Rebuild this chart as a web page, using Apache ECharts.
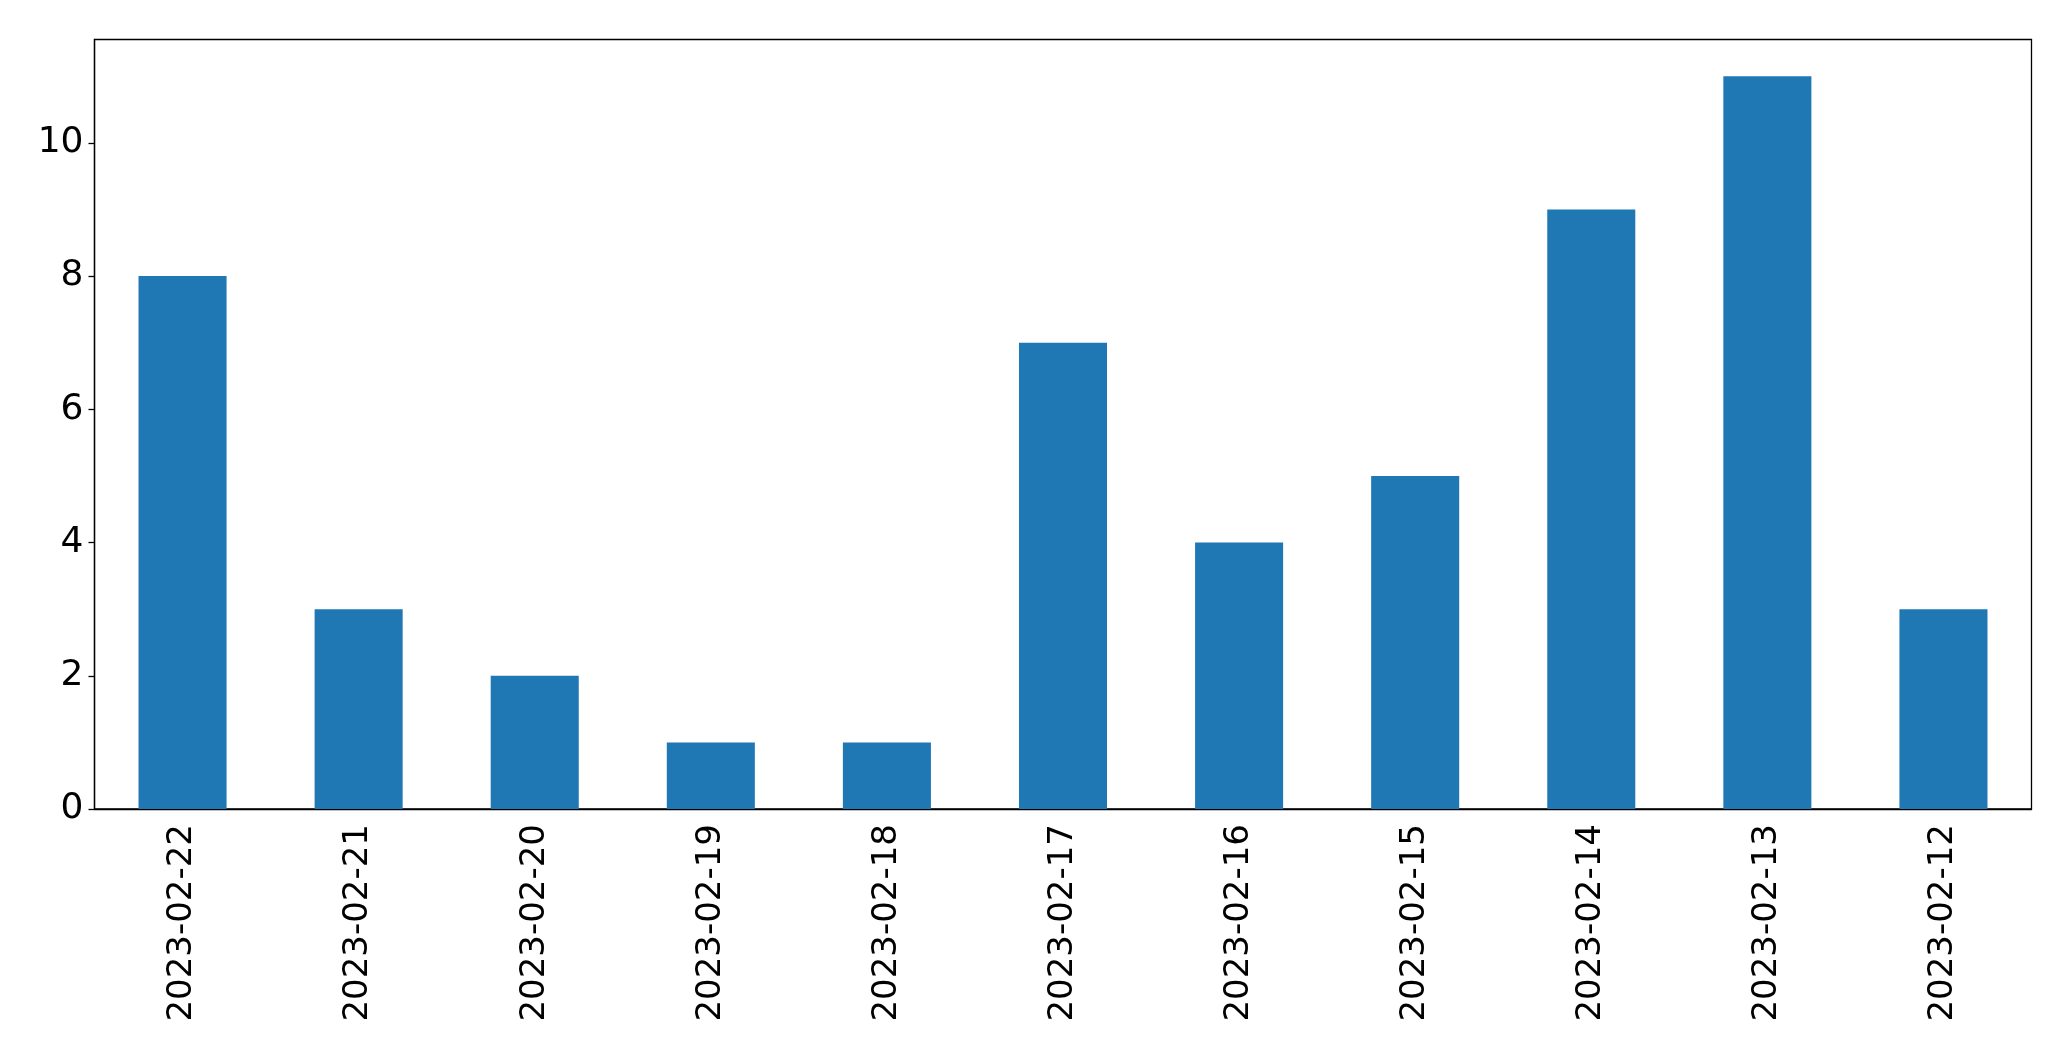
<!DOCTYPE html>
<html>
<head>
<meta charset="utf-8">
<script src="https://cdn.jsdelivr.net/npm/echarts@6/dist/echarts.min.js"></script>
<style>
html,body{margin:0;padding:0;background:#fff;}
#chart{width:2071px;height:1061px;}
</style>
</head>
<body>
<div id="chart"></div>
<script>
const categories = ["2023-02-22","2023-02-21","2023-02-20","2023-02-19","2023-02-18","2023-02-17","2023-02-16","2023-02-15","2023-02-14","2023-02-13","2023-02-12"];
const values = [8,3,2,1,1,7,4,5,9,11,3];
const yTicks = [0,2,4,6,8,10];

const chart = echarts.init(document.getElementById('chart'), null, {renderer:'canvas'});
chart.setOption({
  animation:false,
  backgroundColor:'#ffffff',
  grid:{left:94.5,right:39.5,top:39.5,bottom:252,show:true,borderColor:'#000',borderWidth:1.3,backgroundColor:'transparent'},
  xAxis:{
    type:'category',data:categories,boundaryGap:true,
    axisLine:{lineStyle:{color:'#000',width:1.3}},
    axisTick:{alignWithLabel:true,length:6,lineStyle:{color:'#000',width:1.3}},
    axisLabel:{rotate:90,margin:15,color:'#000',fontSize:34,fontFamily:'DejaVu Sans',interval:0},
    splitLine:{show:false}
  },
  yAxis:{
    type:'value',min:0,max:11.55,interval:2,
    axisLine:{show:true,lineStyle:{color:'#000',width:1.3}},
    axisTick:{show:true,length:6,lineStyle:{color:'#000',width:1.3}},
    axisLabel:{showMaxLabel:false,margin:11,color:'#000',fontSize:36,fontFamily:'DejaVu Sans',padding:[4,0,0,0],
      formatter:function(v){return yTicks.indexOf(v)>=0?String(v):'';}},
    splitLine:{show:false}
  },
  series:[{type:'bar',data:values,barWidth:'50%',itemStyle:{color:'#1f77b4'}}]
});
</script>
</body>
</html>
